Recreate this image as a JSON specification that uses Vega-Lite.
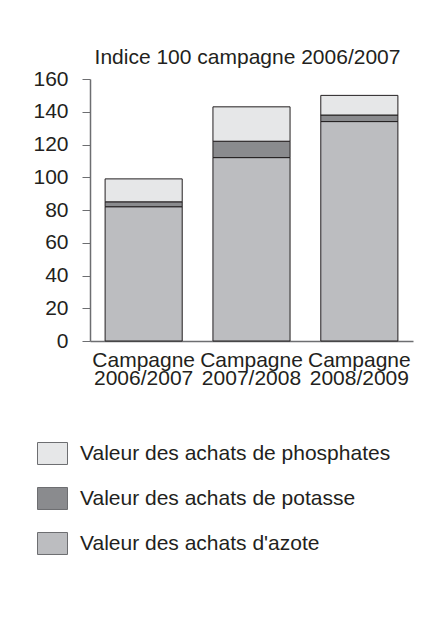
{
  "$schema": "https://vega.github.io/schema/vega-lite/v6.json",
  "autosize": {"type": "none"},
  "padding": {"left": 90, "top": 79, "right": 29, "bottom": 287},
  "width": 323,
  "height": 262,
  "background": "white",
  "title": {
    "text": "Indice 100 campagne 2006/2007",
    "anchor": "middle",
    "frame": "group",
    "offset": 0,
    "dx": -4,
    "font": "Liberation Sans",
    "fontSize": 21,
    "fontWeight": "normal",
    "color": "#231f20"
  },
  "data": {
    "values": [
      {"campagne": "Campagne 2006/2007", "type": "Valeur des achats d'azote", "valeur": 82, "ordre": 1},
      {"campagne": "Campagne 2006/2007", "type": "Valeur des achats de potasse", "valeur": 3, "ordre": 2},
      {"campagne": "Campagne 2006/2007", "type": "Valeur des achats de phosphates", "valeur": 14, "ordre": 3},
      {"campagne": "Campagne 2007/2008", "type": "Valeur des achats d'azote", "valeur": 112, "ordre": 1},
      {"campagne": "Campagne 2007/2008", "type": "Valeur des achats de potasse", "valeur": 10, "ordre": 2},
      {"campagne": "Campagne 2007/2008", "type": "Valeur des achats de phosphates", "valeur": 21, "ordre": 3},
      {"campagne": "Campagne 2008/2009", "type": "Valeur des achats d'azote", "valeur": 134, "ordre": 1},
      {"campagne": "Campagne 2008/2009", "type": "Valeur des achats de potasse", "valeur": 4, "ordre": 2},
      {"campagne": "Campagne 2008/2009", "type": "Valeur des achats de phosphates", "valeur": 12, "ordre": 3}
    ]
  },
  "mark": {"type": "bar", "stroke": "#231f20", "strokeWidth": 1},
  "encoding": {
    "x": {
      "field": "campagne",
      "type": "nominal",
      "title": null,
      "scale": {"paddingInner": 0.285, "paddingOuter": 0.14},
      "axis": {
        "labelAngle": 0,
        "labelExpr": "split(datum.label, ' ')",
        "labelLineHeight": 18,
        "labelFontSize": 21,
        "labelFont": "Liberation Sans",
        "labelColor": "#231f20",
        "labelPadding": 8,
        "ticks": false,
        "domainColor": "#6d6e71",
        "domainWidth": 1.5
      }
    },
    "y": {
      "field": "valeur",
      "type": "quantitative",
      "stack": "zero",
      "title": null,
      "scale": {"domain": [0, 160], "nice": false},
      "axis": {
        "values": [0, 20, 40, 60, 80, 100, 120, 140, 160],
        "grid": false,
        "tickSize": 8,
        "tickColor": "#6d6e71",
        "tickWidth": 1,
        "domainColor": "#6d6e71",
        "domainWidth": 1.5,
        "labelPadding": 14,
        "labelFontSize": 21,
        "labelFont": "Liberation Sans",
        "labelColor": "#231f20"
      }
    },
    "color": {
      "field": "type",
      "type": "nominal",
      "scale": {
        "domain": ["Valeur des achats de phosphates", "Valeur des achats de potasse", "Valeur des achats d'azote"],
        "range": ["#e6e7e8", "#8a8b8e", "#bcbdc0"]
      },
      "legend": {
        "title": null,
        "orient": "none",
        "legendX": -53,
        "legendY": 359,
        "direction": "vertical",
        "padding": 0,
        "symbolType": "M-1,-0.733H1V0.733H-1Z",
        "symbolSize": 900,
        "symbolStrokeColor": "#6d6e71",
        "symbolStrokeWidth": 1,
        "symbolOpacity": 1,
        "labelFont": "Liberation Sans",
        "labelFontSize": 21,
        "labelColor": "#231f20",
        "labelOffset": 12,
        "labelLimit": 400,
        "rowPadding": 16
      }
    },
    "order": {"field": "ordre", "type": "quantitative"}
  },
  "config": {
    "view": {"stroke": null}
  }
}
